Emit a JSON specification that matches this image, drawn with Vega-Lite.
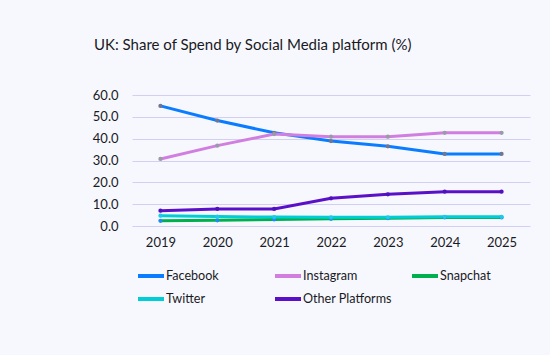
{
  "$schema": "https://vega.github.io/schema/vega-lite/v6.json",
  "width": 398,
  "height": 131,
  "autosize": {"type": "none"},
  "padding": {"left": 132, "top": 95, "right": 20, "bottom": 129},
  "background": "#f7f8fe",
  "title": {
    "text": "UK: Share of Spend by Social Media platform (%)",
    "anchor": "start",
    "frame": "group",
    "dx": -38,
    "offset": 36,
    "font": "Lato",
    "fontSize": 15,
    "fontWeight": "normal",
    "color": "#1a1a24"
  },
  "config": {
    "view": {"stroke": null},
    "font": "Lato"
  },
  "data": {
    "values": [
      {"year": "2019", "series": "Facebook", "value": 55.0},
      {"year": "2020", "series": "Facebook", "value": 48.3},
      {"year": "2021", "series": "Facebook", "value": 42.7},
      {"year": "2022", "series": "Facebook", "value": 38.9},
      {"year": "2023", "series": "Facebook", "value": 36.5},
      {"year": "2024", "series": "Facebook", "value": 33.0},
      {"year": "2025", "series": "Facebook", "value": 33.0},
      {"year": "2019", "series": "Instagram", "value": 30.7},
      {"year": "2020", "series": "Instagram", "value": 36.8},
      {"year": "2021", "series": "Instagram", "value": 42.1},
      {"year": "2022", "series": "Instagram", "value": 40.9},
      {"year": "2023", "series": "Instagram", "value": 40.9},
      {"year": "2024", "series": "Instagram", "value": 42.7},
      {"year": "2025", "series": "Instagram", "value": 42.7},
      {"year": "2019", "series": "Snapchat", "value": 2.4},
      {"year": "2020", "series": "Snapchat", "value": 2.6},
      {"year": "2021", "series": "Snapchat", "value": 3.0},
      {"year": "2022", "series": "Snapchat", "value": 3.3},
      {"year": "2023", "series": "Snapchat", "value": 3.6},
      {"year": "2024", "series": "Snapchat", "value": 3.9},
      {"year": "2025", "series": "Snapchat", "value": 3.9},
      {"year": "2019", "series": "Twitter", "value": 4.7},
      {"year": "2020", "series": "Twitter", "value": 4.3},
      {"year": "2021", "series": "Twitter", "value": 4.1},
      {"year": "2022", "series": "Twitter", "value": 4.0},
      {"year": "2023", "series": "Twitter", "value": 4.0},
      {"year": "2024", "series": "Twitter", "value": 4.2},
      {"year": "2025", "series": "Twitter", "value": 4.2},
      {"year": "2019", "series": "Other Platforms", "value": 7.0},
      {"year": "2020", "series": "Other Platforms", "value": 7.8},
      {"year": "2021", "series": "Other Platforms", "value": 7.8},
      {"year": "2022", "series": "Other Platforms", "value": 12.7},
      {"year": "2023", "series": "Other Platforms", "value": 14.5},
      {"year": "2024", "series": "Other Platforms", "value": 15.7},
      {"year": "2025", "series": "Other Platforms", "value": 15.7}
    ]
  },
  "encoding": {
    "x": {
      "field": "year",
      "type": "ordinal",
      "title": null,
      "axis": {
        "labelAngle": 0,
        "ticks": false,
        "domain": false,
        "labelPadding": 10,
        "labelFontSize": 13,
        "labelColor": "#1a1a24"
      }
    },
    "y": {
      "field": "value",
      "type": "quantitative",
      "title": null,
      "scale": {"domain": [0, 60], "nice": false},
      "axis": {
        "values": [0, 10, 20, 30, 40, 50, 60],
        "format": ".1f",
        "ticks": false,
        "domain": false,
        "gridColor": "#d3cff3",
        "gridWidth": 1.2,
        "labelPadding": 14,
        "labelFontSize": 13,
        "labelColor": "#1a1a24"
      }
    }
  },
  "layer": [
    {
      "mark": {"type": "line", "strokeWidth": 3},
      "encoding": {
        "color": {
          "field": "series",
          "type": "nominal",
          "sort": ["Facebook", "Instagram", "Snapchat", "Twitter", "Other Platforms"],
          "scale": {
            "domain": ["Facebook", "Instagram", "Snapchat", "Twitter", "Other Platforms"],
            "range": ["#0a7cff", "#d07fe0", "#00b04f", "#00ced6", "#5a10c8"]
          },
          "legend": {
            "title": null,
            "orient": "none",
            "legendX": 4,
            "legendY": 166,
            "direction": "horizontal",
            "columns": 3,
            "gridAlign": "all",
            "columnPadding": 12,
            "rowPadding": -12,
            "symbolType": "stroke",
            "symbolSize": 676,
            "symbolStrokeWidth": 4,
            "labelOffset": 0,
            "labelFontSize": 12.6,
            "labelColor": "#1a1a24"
          }
        }
      }
    },
    {
      "mark": {"type": "point", "filled": true, "size": 18, "opacity": 1},
      "encoding": {
        "color": {
          "field": "series",
          "type": "nominal",
          "scale": {
            "domain": ["Facebook", "Instagram", "Snapchat", "Twitter", "Other Platforms"],
            "range": ["#6f7690", "#9a9aa8", "#1b8cf0", "#1ecbe4", "#5010c0"]
          },
          "legend": null
        }
      }
    }
  ],
  "resolve": {"scale": {"color": "independent"}}
}
